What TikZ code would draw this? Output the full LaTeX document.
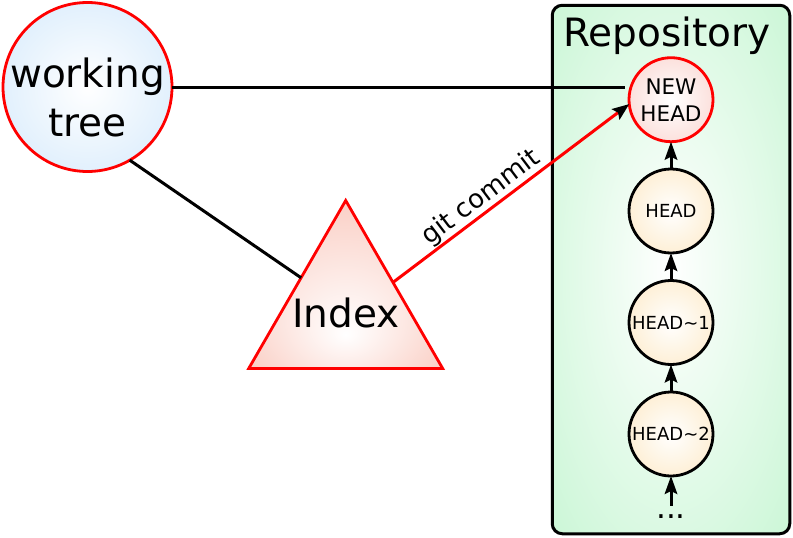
\documentclass[tikz,border=0pt]{standalone}
\usepackage{fontspec}
\setmainfont{DejaVu Sans}
\usetikzlibrary{shapes.geometric,arrows.meta,calc}
\definecolor{blueout}{HTML}{C4E1FA}
\definecolor{pinkout}{HTML}{F8C2BA}
\definecolor{triout}{HTML}{F7B2A2}
\definecolor{yelout}{HTML}{FCE0AE}
\definecolor{greenout}{HTML}{B6F3C6}
\definecolor{linered}{HTML}{FF0000}
\pgfdeclareradialshading{blueball}{\pgfpointorigin}{color(0bp)=(white); color(50bp)=(blueout)}
\pgfdeclareradialshading{pinkball}{\pgfpointorigin}{color(0bp)=(white); color(50bp)=(pinkout)}
\pgfdeclareradialshading{yelball}{\pgfpointorigin}{color(0bp)=(white); color(50bp)=(yelout)}
\pgfdeclareradialshading{greenball}{\pgfpointorigin}{color(0bp)=(white); color(50bp)=(greenout)}
\pgfdeclareradialshading{triball}{\pgfpoint{0bp}{-15bp}}{color(0bp)=(white); color(50bp)=(triout)}
\begin{document}
\begin{tikzpicture}[x=1pt,y=-1pt,
  every node/.style={inner sep=0pt, outer sep=0pt},
  bigfont/.style={font=\fontsize{39}{49}\selectfont},
  commit/.style={circle, draw=black, line width=2.8pt, minimum size=84pt, shading=yelball, font=\fontsize{18}{22}\selectfont},
  newhead/.style={circle, draw=linered, line width=2.8pt, minimum size=84pt, shading=pinkball, align=center, font=\fontsize{21.5}{27}\selectfont},
  arr/.style={-{Stealth[length=18pt,width=12.5pt,inset=3pt]}, line width=3pt},
  link/.style={line width=3pt, black},
  commitarrow/.style={-{Stealth[length=17pt,width=13pt,inset=3pt,color=black]}, line width=3pt, linered}]
\useasboundingbox (0,0) rectangle (793,538);
% repository box
\node[draw=black, rounded corners=10pt, line width=3pt, minimum width=237.5pt, minimum height=528.5pt, shading=greenball] (repo) at (671,269.5) {};
\node[bigfont, anchor=base] (replabel) at (667,46) {Repository};
% commits
\node[newhead] (nh) at (671,99.7) {NEW\\HEAD};
\node[commit] (h0) at (671,211) {HEAD};
\node[commit] (h1) at (671,322.5) {HEAD\textasciitilde1};
\node[commit] (h2) at (671,434) {HEAD\textasciitilde2};
\node[font=\fontsize{31}{34}\selectfont, anchor=base] (dots) at (671,518) {...};
\draw[arr] (h0) -- (nh);
\draw[arr] (h1) -- (h0);
\draw[arr] (h2) -- (h1);
\draw[arr, shorten <=8.5pt] (dots) -- (h2);
% working tree
\node[circle, draw=linered, line width=2.8pt, minimum size=169pt, shading=blueball, bigfont, align=center] (wt) at (87.5,87) {\rule{0pt}{50pt}\makebox[0pt]{working}\\\makebox[0pt]{tree}};
% index
\node[regular polygon, regular polygon sides=3, minimum size=224pt, draw=linered, line width=2.8pt, shading=triball, bigfont] (idx) at (345.7,312.5) {\makebox[0pt]{Index}};
% links
\draw[link, shorten >=4pt] (wt.east) -- (wt.east -| nh.west);
\draw[link] (wt.-60.8) -- ($(idx.corner 1)!0.46!(idx.corner 2)$);
\draw[commitarrow] ($(idx.corner 1)!0.4875!(idx.corner 3)$) -- (nh.186)
  node[pos=0.41, sloped, above=2pt, font=\fontsize{26}{30}\selectfont, text=black] (gc) {git commit};
\end{tikzpicture}
\end{document}
